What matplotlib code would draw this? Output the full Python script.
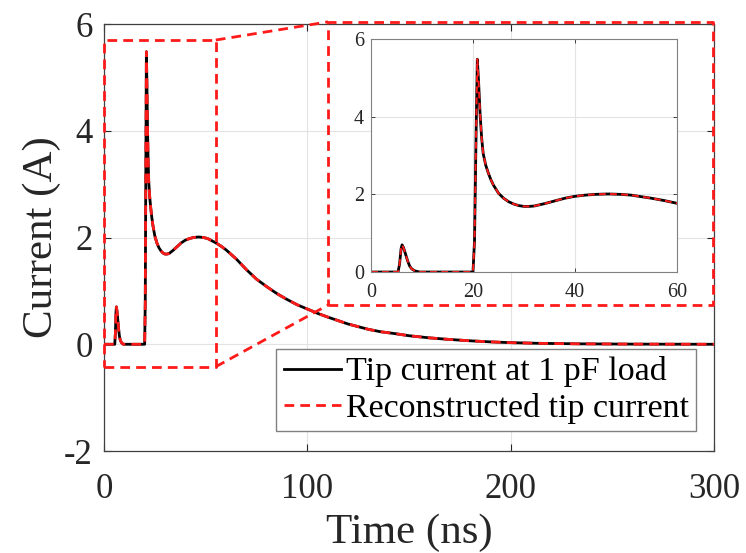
import numpy as np
import matplotlib.pyplot as plt

# --- Waveform samples (time in ns, current in A) ---
time_ns = [0, 5.3, 5.6, 5.9, 6.1, 6.4, 6.8, 7.2, 7.6, 8.0, 8.6, 9.5,
           20.0, 20.3, 20.6, 20.85, 21.1, 21.4, 21.7, 22.0, 22.5, 23.0, 23.5,
           24.0, 25.0, 26.0, 27.0, 28.0, 29.0, 30.0, 31.0, 32.0, 34.0, 36.0,
           38.0, 40.0, 42.0, 44.0, 46.5, 49.0, 51.0, 53.0, 55.0, 57.5, 60.0,
           65, 70, 75, 80, 85, 90, 95, 100, 105, 110, 120, 130, 136, 143,
           150, 160, 169, 180, 190, 200, 215, 234, 260, 300]
tip_current = [0, 0, 0.2, 0.6, 0.70, 0.62, 0.45, 0.28, 0.15, 0.08, 0.03, 0.0,
               0, 0.8, 3.5, 5.48, 4.9, 4.05, 3.45, 3.05, 2.75, 2.55, 2.38,
               2.24, 2.03, 1.90, 1.81, 1.75, 1.71, 1.69, 1.69, 1.70, 1.76, 1.83,
               1.90, 1.95, 1.98, 2.00, 2.01, 2.00, 1.98, 1.94, 1.90, 1.84, 1.77,
               1.60, 1.40, 1.22, 1.08, 0.95, 0.84, 0.74, 0.66, 0.58, 0.51, 0.38,
               0.28, 0.235, 0.20, 0.16, 0.12, 0.093, 0.065, 0.045, 0.03, 0.017,
               0.008, 0.003, 0.0]
reconstructed_current = list(tip_current)

x_ticks = [0, 100, 200, 300]
y_ticks = [-2, 0, 2, 4, 6]
inset_x_ticks = [0, 20, 40, 60]
inset_y_ticks = [0, 2, 4, 6]

# zoom window (data coords of main axes) and where the inset frame sits
zoom_x = (0, 55)
zoom_y = (-0.42, 5.70)
frame_x = (110.2, 299.7)
frame_y = (0.735, 6.04)

plt.rcParams['font.family'] = ['Liberation Serif', 'DejaVu Serif']
plt.rcParams['axes.unicode_minus'] = False

txt = '#262626'
red = '#ff1a1a'

fig = plt.figure(figsize=(7.46, 5.53), dpi=100)
ax = fig.add_axes([0.1394, 0.1844, 0.8177, 0.7722])

ax.plot(time_ns, tip_current, color='black', lw=2.0, label='Tip current at 1 pF load', zorder=3)
ax.plot(time_ns, reconstructed_current, color=red, lw=2.0, dashes=(3.5, 2.2),
        label='Reconstructed tip current', zorder=4)

ax.set_xlim(0, 300)
ax.set_ylim(-2, 6)
ax.set_xticks(x_ticks)
ax.set_yticks(y_ticks)
ax.grid(True, color='#e3e3e3', lw=0.8)
ax.set_axisbelow(True)
ax.tick_params(direction='in', top=True, right=True, length=5, width=0.8,
               labelsize=25, colors=txt)
ax.tick_params(axis='x', pad=16)
ax.tick_params(axis='y', pad=8)
for s in ax.spines.values():
    s.set_color('#404040')
    s.set_linewidth(0.9)
ax.set_xlabel('Time (ns)', fontsize=31, color=txt, labelpad=5)
ax.set_ylabel('Current (A)', fontsize=31, color=txt, labelpad=2)

# dashed zoom box, inset frame and the two connectors
box_kw = dict(color=red, lw=2.0, dashes=(3.5, 2.2), clip_on=False, zorder=5)
ax.plot([zoom_x[0], zoom_x[1], zoom_x[1], zoom_x[0], zoom_x[0]],
        [zoom_y[0], zoom_y[0], zoom_y[1], zoom_y[1], zoom_y[0]], **box_kw)
ax.plot([frame_x[0], frame_x[1], frame_x[1], frame_x[0], frame_x[0]],
        [frame_y[0], frame_y[0], frame_y[1], frame_y[1], frame_y[0]], **box_kw)
ax.plot([zoom_x[1], frame_x[0]], [zoom_y[1], frame_y[1]], **box_kw)
ax.plot([zoom_x[1], frame_x[0]], [zoom_y[0], frame_y[0]], **box_kw)

leg = ax.legend(loc='lower right', bbox_to_anchor=(0.9705, 0.0468), borderaxespad=0,
                fontsize=24.5, frameon=True, fancybox=False, framealpha=1,
                handlelength=1.7, handletextpad=0.12, borderpad=0.22, labelspacing=0.15)
leg.get_frame().set_edgecolor('#808080')
leg.get_frame().set_linewidth(1.0)
leg.set_zorder(6)

# inset with the first 60 ns
axin = fig.add_axes([0.4973, 0.5081, 0.4102, 0.4213])
axin.plot(time_ns, tip_current, color='black', lw=2.0)
axin.plot(time_ns, reconstructed_current, color=red, lw=1.4, dashes=(3.5, 2.2))
axin.set_xlim(0, 60)
axin.set_ylim(0, 6)
axin.set_xticks(inset_x_ticks)
axin.set_yticks(inset_y_ticks)
axin.grid(True, color='#e3e3e3', lw=0.8)
axin.set_axisbelow(True)
axin.tick_params(direction='in', top=True, right=True, length=3, width=0.6,
                 labelsize=14.5, colors=txt)
axin.tick_params(axis='x', pad=8)
axin.tick_params(axis='y', pad=5)
for s in axin.spines.values():
    s.set_color('#808080')
    s.set_linewidth(0.8)

fig.savefig('out.png', dpi=100)
